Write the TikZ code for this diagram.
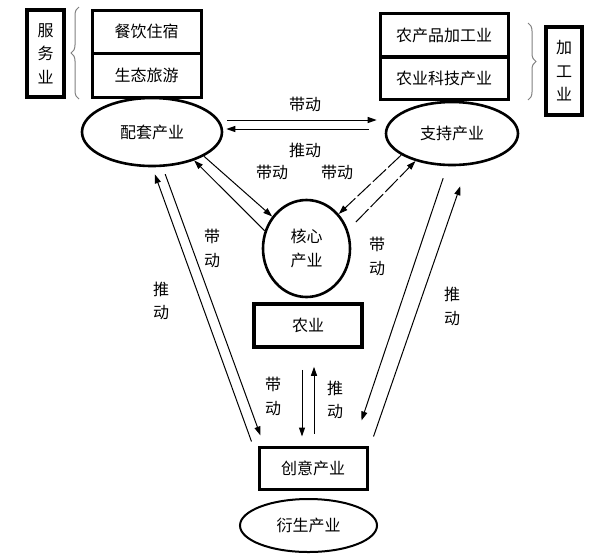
\documentclass[tikz,border=0pt]{standalone}
\usepackage{fontspec}
\newfontfamily\cjk{Noto Sans CJK SC}
\usetikzlibrary{shapes.geometric,arrows.meta,decorations.pathreplacing}

\tikzset{
  box/.style={draw,line width=3pt,minimum width=108pt,minimum height=43pt,inner sep=0pt,align=center},
  oval/.style={draw,ellipse,line width=2.6pt,inner sep=0pt,align=center},
  word/.style={inner sep=0pt,align=center},
  arr/.style={-{Triangle[length=9pt,width=6pt]},line width=1pt},
  brc/.style={decorate,decoration={brace,amplitude=8pt},draw=gray,line width=1pt},
}

\begin{document}
\begin{tikzpicture}[x=1pt,y=-1pt,font=\cjk\fontsize{16}{23.5}\selectfont]
  \useasboundingbox (0,0) rectangle (610,558);

  \node[box,minimum width=37pt,minimum height=87pt,line width=3.5pt] (fwy) at (45.5,53.5) {服\\务\\业};
  \node[box,minimum width=109pt] (cyzs) at (146.5,31.5) {餐饮住宿};
  \node[box,minimum width=109pt,minimum height=44pt] (stly) at (146.5,75) {生态旅游};
  \draw[brc] (79,99) -- (79,7);

  \node[box,minimum width=128pt] (ncp) at (444,35) {农产品加工业};
  \node[box,minimum width=128pt,minimum height=42pt] (nykj) at (444,78) {农业科技产业};
  \node[box,minimum width=36pt,minimum height=88pt,line width=3.5pt] (jgy) at (564,71) {加\\工\\业};
  \draw[brc] (528,23) -- (528,100);

  \node[oval,minimum width=140pt,minimum height=68pt] (ptcy) at (152,132) {配套产业};
  \node[oval,minimum width=132pt,minimum height=63pt] (zccy) at (452,133.5) {支持产业};
  \node[oval,minimum width=87pt,minimum height=97pt] (hxcy) at (306.5,248.5) {核心\\产业};
  \node[box,line width=3.5pt] (nyy) at (308,325.5) {农业};
  \node[box,minimum height=42pt] (cycy) at (313,468) {创意产业};
  \node[oval,minimum width=137pt,minimum height=53pt,line width=2pt] (yscy) at (308.5,525.5) {衍生产业};

  \draw[arr] ([shift={(4,-12)}]ptcy.east) -- ([shift={(-8,-13.5)}]zccy.west);
  \draw[arr] ([shift={(-16,-4.5)}]zccy.west) -- ([shift={(3,-3)}]ptcy.east);
  \draw[arr] (hxcy.157) -- (ptcy.-34);
  \draw[arr] (ptcy.-25) -- (hxcy.137);
  \draw[arr,dash pattern=on 18pt off 3pt] (zccy.-157) -- (hxcy.47);
  \draw[arr,dash pattern=on 18pt off 3pt] ([shift={(9,-5)}]hxcy.28) -- (zccy.-143);

  \draw[arr] ([shift={(-6,-4)}]cycy.north west) -- ([shift={(1,7)}]ptcy.-87);
  \draw[arr] ([shift={(7,7)}]ptcy.-80) -- ([shift={(3,-10)}]cycy.north west);
  \draw[arr] ([shift={(-6,12)}]zccy.-95) -- ([shift={(-7,-25)}]cycy.north east);
  \draw[arr] ([shift={(5,-9)}]cycy.north east) -- ([shift={(2.5,20)}]zccy.-80);
  \draw[arr] ([shift={(-6,21)}]nyy.south) -- ([shift={(-11,-9)}]cycy.north);
  \draw[arr] ([shift={(1,-12)}]cycy.north) -- ([shift={(6,18)}]nyy.south);

  \node[word] (dd1) at (305,104) {带动};
  \node[word] (td1) at (305,150) {推动};
  \node[word] (dd2) at (272,172) {带动};
  \node[word] (dd3) at (337,172) {带动};
  \node[word] (dd4) at (212,248.5) {带\\动};
  \node[word] (td2) at (161,301) {推\\动};
  \node[word] (dd5) at (377,256.5) {带\\动};
  \node[word] (td3) at (452,306.5) {推\\动};
  \node[word] (dd6) at (273,396.5) {带\\动};
  \node[word] (td4) at (335,400) {推\\动};
\end{tikzpicture}
\end{document}
